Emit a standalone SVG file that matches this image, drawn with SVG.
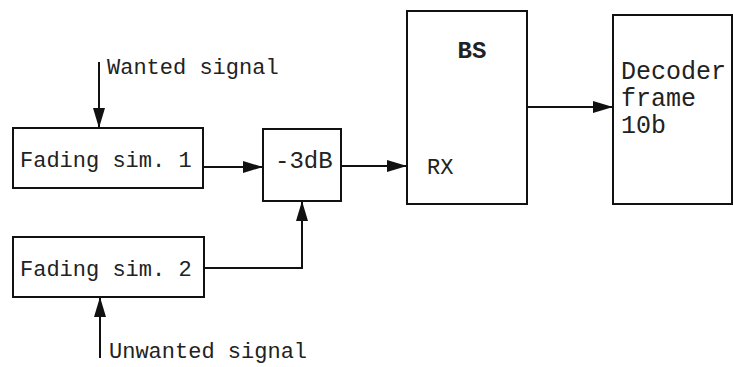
<svg xmlns="http://www.w3.org/2000/svg" width="733" height="367" viewBox="0 0 733 367">
<defs>
<style>
.box{fill:none;stroke:#111;stroke-width:2}
.ln{fill:none;stroke:#111;stroke-width:2}
.t{font-family:"Liberation Mono","Courier New",monospace;font-size:22px;fill:#222}
.tb{font-family:"Liberation Mono","Courier New",monospace;font-size:24px;font-weight:bold;fill:#222}
</style>
<marker id="ahv" viewBox="0 0 10 10" refX="10" refY="5" markerWidth="20" markerHeight="12" markerUnits="userSpaceOnUse" orient="auto" preserveAspectRatio="none">
<path d="M0,0 L10,5 L0,10 Z" fill="#111"/>
</marker>
</defs>
<rect width="733" height="367" fill="#fff"/>
<g id="connectors">
<line class="ln" x1="99" y1="62" x2="99" y2="128" marker-end="url(#ahv)"/>
<line class="ln" x1="203" y1="167" x2="263" y2="167" marker-end="url(#ahv)"/>
<polyline class="ln" points="204,268 302,268 302,201" marker-end="url(#ahv)"/>
<line class="ln" x1="100" y1="358" x2="100" y2="297" marker-end="url(#ahv)"/>
<line class="ln" x1="341" y1="166" x2="407" y2="166" marker-end="url(#ahv)"/>
<line class="ln" x1="527" y1="107" x2="613" y2="107" marker-end="url(#ahv)"/>
</g>
<g id="wanted-label"><text class="t" x="107" y="74">Wanted signal</text></g>
<g id="unwanted-label"><text class="t" x="109" y="358">Unwanted signal</text></g>
<g id="fading1">
<rect class="box" x="13" y="128" width="190" height="60"/>
<text class="t" x="20" y="167">Fading sim. 1</text>
</g>
<g id="fading2">
<rect class="box" x="13" y="237" width="191" height="60"/>
<text class="t" x="20" y="276">Fading sim. 2</text>
</g>
<g id="atten">
<rect class="box" x="263" y="129" width="78" height="72"/>
<text class="t" x="275" y="168" style="font-size:24px">-3dB</text>
</g>
<g id="bs">
<rect class="box" x="407" y="11" width="120" height="193"/>
<text class="tb" x="472" y="58" text-anchor="middle">BS</text>
<text class="t" x="427" y="174">RX</text>
</g>
<g id="decoder">
<rect class="box" x="613" y="15" width="119" height="189"/>
<text class="t" x="621" y="79" style="font-size:25px">Decoder</text>
<text class="t" x="621" y="106" style="font-size:25px">frame</text>
<text class="t" x="621" y="133" style="font-size:25px">10b</text>
</g>
</svg>
